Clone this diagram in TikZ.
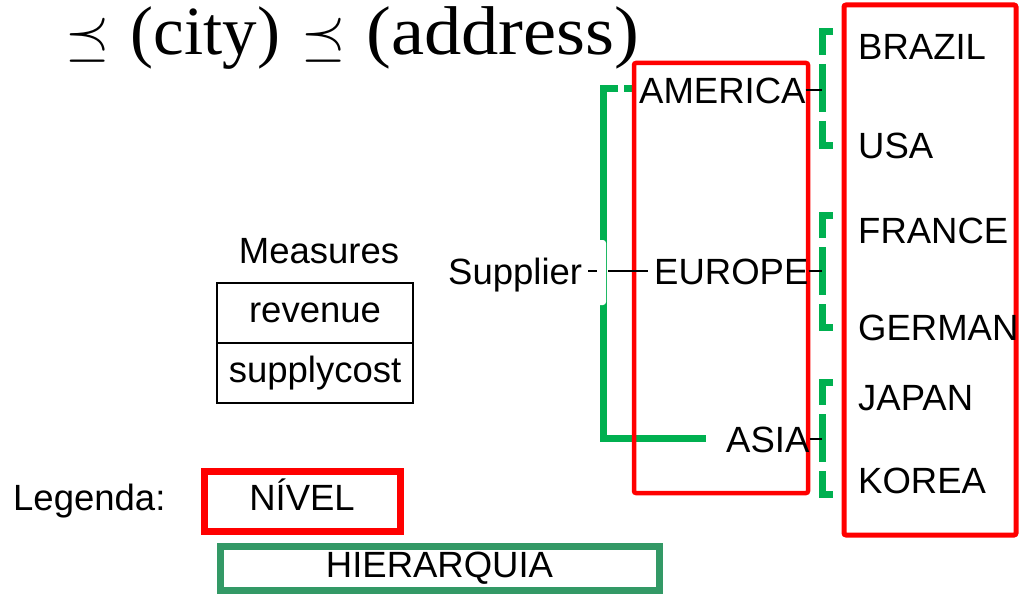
\RequirePackage{fix-cm}
\documentclass[tikz,border=0pt]{standalone}
\usepackage{fontspec}
\setmainfont{Liberation Sans}
\newfontfamily\titlefont{Liberation Serif}
\definecolor{lvlred}{HTML}{FF0000}
\definecolor{hiergreen}{HTML}{00B050}
\definecolor{legendgreen}{HTML}{339966}
\newcommand{\precsym}{{\fontsize{57}{60}\selectfont$\preceq$}}

\begin{document}
\begin{tikzpicture}[x=1pt,y=-1pt,
  every node/.style={font=\fontsize{36.5}{40}\selectfont},
  lbl/.style={inner sep=0pt, text height=26pt, text depth=0pt, anchor=base west},
  cell/.style={draw, line width=1.5pt, minimum width=196pt, minimum height=60pt,
               inner sep=0pt, text height=26pt, text depth=8pt},
  levelbox/.style={draw=lvlred, line width=5pt, rounded corners=2pt},
  hier/.style={draw=hiergreen, line width=7pt},
  hierdash/.style={hier, dash pattern=on 34pt off 9pt on 48pt off 9pt on 100pt},
  link/.style={draw=black, line width=1.3pt}]

\useasboundingbox (0,0) rectangle (1019,599);
\fill[white] (0,0) rectangle (1019,599);

% title
\node[anchor=base west, inner sep=0pt, font=\titlefont\fontsize{69}{72}\selectfont] (title)
  at (65,55) {\precsym\hspace{21pt}(city)\hspace{22pt}\precsym\hspace{20pt}\scalebox{1.08}[1]{(address)}};

% bracket joining the regions
\draw[hier, dash pattern=on 8pt off 6pt on 2000pt]
  (632,88.5) -- (603.5,88.5) -- (603.5,438) -- (706,438);
% white backing of the Supplier label
\fill[white, rounded corners=3pt] (432,240) rectangle (606,305);

% brackets joining the countries of each region
\coordinate (brA) at (822,88);
\coordinate (brE) at (822,270);
\coordinate (brS) at (822,437);
\draw[hierdash] (833,32) -- (822,32) -- (822,145) -- (833,145);
\draw[hierdash] (833,215) -- (822,215) -- (822,327) -- (833,327);
\draw[hierdash] (833,382) -- (822,382) -- (822,494) -- (833,494);

% level boxes
\draw[levelbox, line width=4.5pt] (634,63) rectangle (808,493);
\draw[levelbox] (844,5) rectangle (1016,535);

% dimension members
\node[lbl] (sup)  at (448,284) {Supplier};
\node[lbl] (amer) at (639,103) {AMERICA};
\node[lbl] (eur)  at (654,284) {EUROPE};
\node[lbl] (asia) at (726,452) {ASIA};
\node[lbl] (bra)  at (858,60)  {BRAZIL};
\node[lbl] (usa)  at (858,158) {USA};
\node[lbl] (fra)  at (858,243) {FRANCE};
\node[lbl] (ger)  at (858,340) {GERMAN};
\node[lbl] (jap)  at (858,410) {JAPAN};
\node[lbl] (kor)  at (858,493) {KOREA};

% connectors
\coordinate (supjoin) at (608,271);
\draw[link, shorten <=6pt] (sup.east) -- ++(15,0);
\draw[link, shorten >=6pt] (supjoin) -- (eur.west);
\draw[link] (amer.east) -- (amer.east -| brA);
\draw[link] (eur.east) -- (eur.east -| brE);
\draw[link] (asia.east) -- (asia.east -| brS);

% measures table
\node[anchor=base, inner sep=0pt] (meas) at (319,263) {Measures};
\node[cell] (rev)  at (315,313) {revenue};
\node[cell] (cost) at (315,373) {supplycost};

% legend
\node[lbl] (leg) at (13,510) {Legenda:};
\node[cell, draw=lvlred, line width=7pt] (niv) at (302,501) {NÍVEL};
\node[cell, draw=legendgreen, line width=7pt, minimum width=439pt, minimum height=44pt]
  (hiq) at (439.5,568) {HIERARQUIA};
\end{tikzpicture}
\end{document}
